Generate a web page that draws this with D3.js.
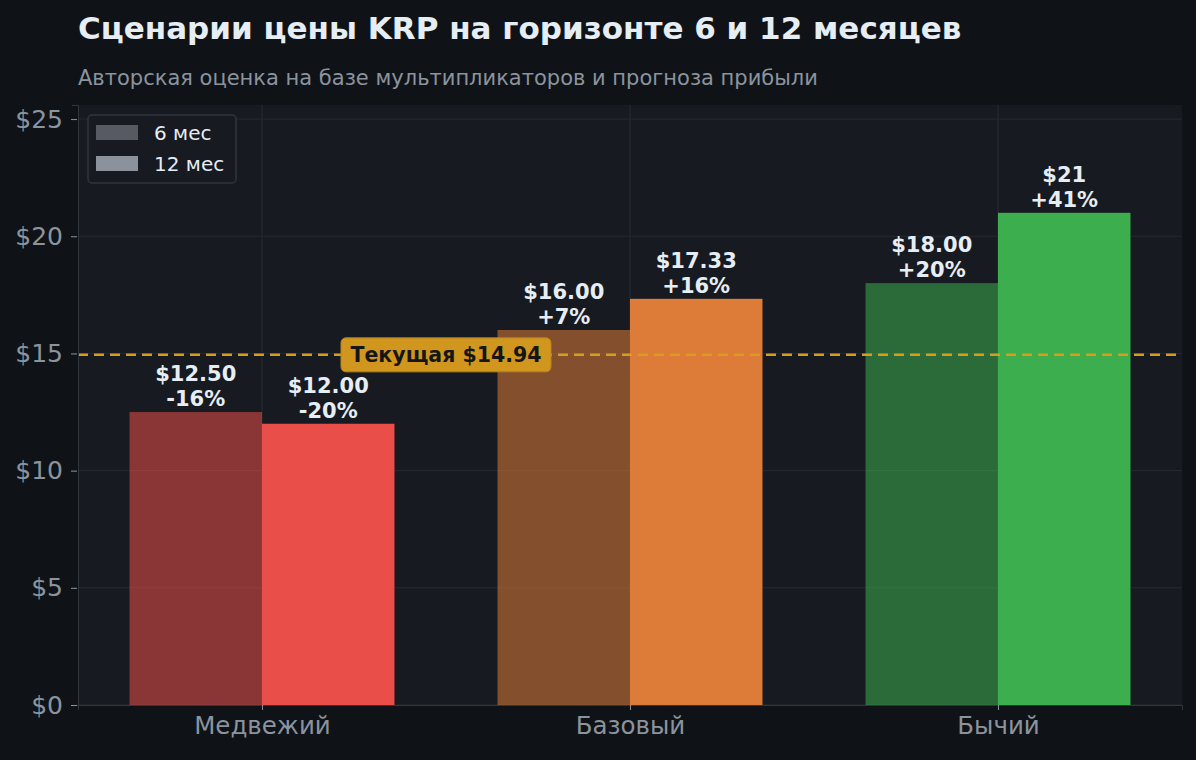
<!DOCTYPE html>
<html>
<head>
<meta charset="utf-8">
<script src="https://cdn.jsdelivr.net/npm/d3@7"></script>
<style>
  body { margin: 0; background: #0f1317; }
  svg { display: block; font-family: "DejaVu Sans", sans-serif; }
</style>
</head>
<body>
<div id="viz"></div>
<script>
// chart size
var w = 1196;
var h = 760;

// data
var scenarios = ["Медвежий", "Базовый", "Бычий"];
var horizons = ["6 мес", "12 мес"];
var price6 = [12.50, 16.00, 18.00];
var price12 = [12.00, 17.33, 21.00];
var label6 = ["$12.50", "$16.00", "$18.00"];
var label12 = ["$12.00", "$17.33", "$21"];
var change6 = ["-16%", "+7%", "+20%"];
var change12 = ["-20%", "+16%", "+41%"];
var currentPrice = 14.94;
var yTicks = [0, 5, 10, 15, 20, 25];

var colors = ["#ea4e48", "#dd7c38", "#3dae4e"];

var margin = {top: 105, right: 14, bottom: 55, left: 78};
var pw = w - margin.left - margin.right;
var ph = h - margin.top - margin.bottom;

var svg = d3.select("#viz")
    .append("svg")
    .attr("width", w)
    .attr("height", h);

svg.append("rect").attr("width", w).attr("height", h).attr("fill", "#0f1317");

// title
svg.append("text")
    .attr("x", 78).attr("y", 39)
    .attr("fill", "#e6edf3")
    .attr("font-size", 31)
    .attr("font-weight", "bold")
    .text("Сценарии цены KRP на горизонте 6 и 12 месяцев");

svg.append("text")
    .attr("x", 78).attr("y", 85)
    .attr("fill", "#8b949e")
    .attr("font-size", 21)
    .text("Авторская оценка на базе мультипликаторов и прогноза прибыли");

var g = svg.append("g")
    .attr("transform", "translate(" + margin.left + "," + margin.top + ")");

g.append("rect").attr("width", pw).attr("height", ph).attr("fill", "#171a21");

// scales: categories at 0,1,2, domain -0.5..2.5
var x = d3.scaleLinear().domain([-0.5, 2.5]).range([0, pw]);
var y = d3.scaleLinear().domain([0, 25.6]).range([ph, 0]);
var barW = x(0.36) - x(0);

// grid
g.selectAll("line.hgrid")
    .data(yTicks)
    .enter().append("line")
    .attr("class", "hgrid")
    .attr("x1", 0).attr("x2", pw)
    .attr("y1", function(d) { return y(d); })
    .attr("y2", function(d) { return y(d); })
    .attr("stroke", "#262b33").attr("stroke-width", 1);

g.selectAll("line.vgrid")
    .data(scenarios)
    .enter().append("line")
    .attr("class", "vgrid")
    .attr("y1", 0).attr("y2", ph)
    .attr("x1", function(d, i) { return x(i); })
    .attr("x2", function(d, i) { return x(i); })
    .attr("stroke", "#262b33").attr("stroke-width", 1);

// bars
var groups = g.selectAll("g.scn")
    .data(scenarios)
    .enter().append("g")
    .attr("class", "scn");

groups.append("rect")
    .attr("x", function(d, i) { return x(i) - barW; })
    .attr("y", function(d, i) { return y(price6[i]); })
    .attr("width", barW)
    .attr("height", function(d, i) { return y(0) - y(price6[i]); })
    .attr("fill", function(d, i) { return colors[i]; })
    .attr("fill-opacity", 0.55);

groups.append("rect")
    .attr("x", function(d, i) { return x(i); })
    .attr("y", function(d, i) { return y(price12[i]); })
    .attr("width", barW)
    .attr("height", function(d, i) { return y(0) - y(price12[i]); })
    .attr("fill", function(d, i) { return colors[i]; });

// bar labels
function barLabel(sel, vals, labels, changes, offset) {
    var t = sel.append("text")
        .attr("text-anchor", "middle")
        .attr("fill", "#e6edf3")
        .attr("font-size", 21)
        .attr("font-weight", "bold")
        .attr("transform", function(d, i) {
            return "translate(" + (x(i) + offset * barW) + "," + (y(vals[i]) - 31) + ")";
        });
    t.append("tspan").attr("x", 0).attr("y", 0).text(function(d, i) { return labels[i]; });
    t.append("tspan").attr("x", 0).attr("y", 25).text(function(d, i) { return changes[i]; });
}
barLabel(groups, price6, label6, change6, -0.5);
barLabel(groups, price12, label12, change12, 0.5);

// current price line
g.append("line")
    .attr("x1", 0).attr("x2", pw)
    .attr("y1", y(currentPrice)).attr("y2", y(currentPrice))
    .attr("stroke", "#d69e1c")
    .attr("stroke-width", 2.5)
    .attr("stroke-dasharray", "10,6");

var cl = g.append("g")
    .attr("transform", "translate(" + x(0.5) + "," + y(currentPrice) + ")");
cl.append("rect")
    .attr("x", -105).attr("y", -17)
    .attr("width", 210).attr("height", 34)
    .attr("rx", 5)
    .attr("fill", "#d0961e")
    .attr("stroke", "#b8841a");
cl.append("text")
    .attr("text-anchor", "middle")
    .attr("dy", "0.35em")
    .attr("fill", "#161616")
    .attr("font-size", 20.5)
    .attr("font-weight", "bold")
    .text("Текущая $" + currentPrice.toFixed(2));

// axes
var yAxis = d3.axisLeft(y).tickValues(yTicks).tickSize(6).tickPadding(9)
    .tickFormat(function(d) { return "$" + d; });
var gy = g.append("g").call(yAxis);
gy.select(".domain").attr("stroke", "#30363d");
gy.selectAll(".tick line").attr("stroke", "#8b949e").attr("transform", "translate(-1,0)");
gy.selectAll(".tick text").attr("fill", "#8b949e").attr("font-size", 25)
    .attr("font-family", "DejaVu Sans, sans-serif");

var xAxis = d3.axisBottom(x).tickValues([0, 1, 2]).tickSize(5).tickPadding(7)
    .tickFormat(function(d) { return scenarios[d]; });
var gx = g.append("g").attr("transform", "translate(0," + ph + ")").call(xAxis);
gx.select(".domain").attr("stroke", "#30363d");
gx.selectAll(".tick line").attr("stroke", "#8b949e");
gx.selectAll(".tick text").attr("fill", "#8b949e").attr("font-size", 24.5)
    .attr("font-family", "DejaVu Sans, sans-serif");

// legend
var lg = g.append("g").attr("transform", "translate(10,10)");
lg.append("rect")
    .attr("width", 148).attr("height", 68)
    .attr("rx", 4)
    .attr("fill", "#171a21")
    .attr("stroke", "#30343c")
    .attr("stroke-width", 1.5);
var legColors = ["#555a63", "#8b929c"];
var items = lg.selectAll("g.item")
    .data(horizons)
    .enter().append("g")
    .attr("class", "item")
    .attr("transform", function(d, i) { return "translate(8," + (10 + i * 31) + ")"; });
items.append("rect")
    .attr("width", 42).attr("height", 15)
    .attr("fill", function(d, i) { return legColors[i]; });
items.append("text")
    .attr("x", 58).attr("y", 8)
    .attr("dy", "0.35em")
    .attr("fill", "#e6edf3")
    .attr("font-size", 20)
    .text(function(d) { return d; });
</script>
</body>
</html>
